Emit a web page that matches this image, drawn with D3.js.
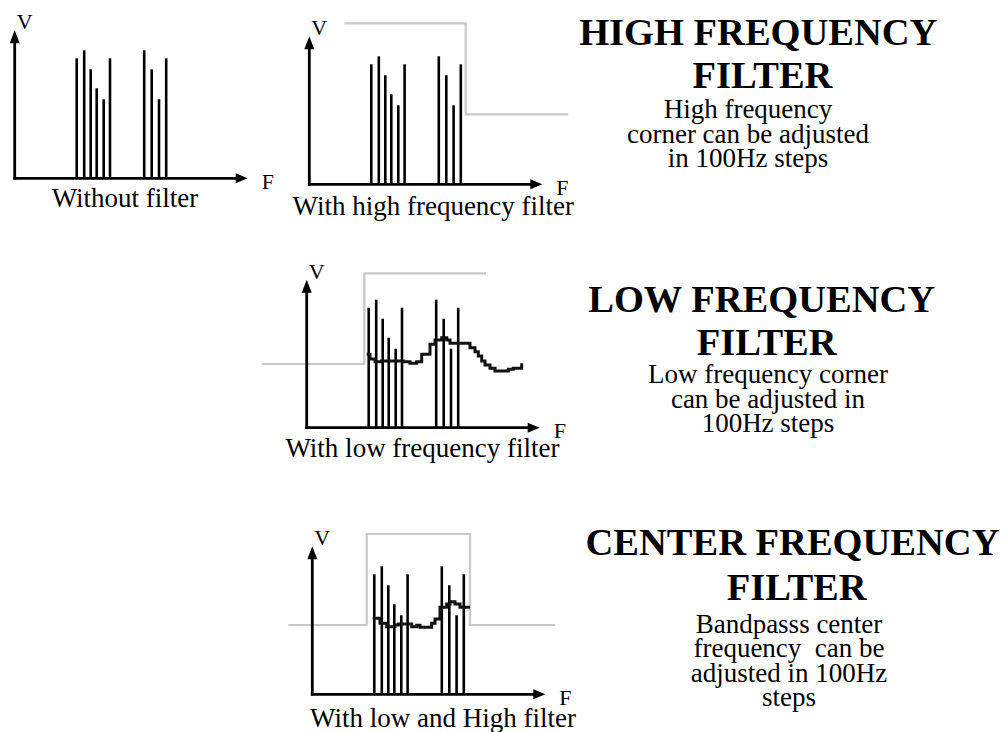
<!DOCTYPE html>
<html>
<head>
<meta charset="utf-8">
<script src="https://cdn.jsdelivr.net/npm/d3@7"></script>
<style>
  html, body { margin: 0; padding: 0; background: #fff; }
  svg { display: block; }
  text { font-family: "Liberation Serif", "Times New Roman", serif; fill: #000; white-space: pre; }
</style>
</head>
<body>
<svg id="chart" width="1003" height="732"></svg>
<script>
// ---- data (frequency / level units) ----
const barFreq  = [62, 69.5, 76, 82, 89, 95.3, 129.5, 137, 144.3, 151.5];
const barLevel = [120, 128, 109, 90, 79, 120, 128, 109, 79, 120];

const highFilterFreq  = [35, 156.4, 259];
const highFilterLevel = [161, 70, 70];

const lowFilterFreq  = [-45, 57.6, 179.3];
const lowFilterLevel = [63.7, 154.4, 154.4];

const bandFilterFreq  = [-24, 54.4, 157.7, 242.7];
const bandFilterLevel = [69.3, 160.3, 69.3, 69.3];

const lowNoiseFreq  = [60, 63.3, 68.3, 75, 96.6, 103.3, 110, 115, 123.3, 128.3, 135, 140, 143.3, 163.3, 168.3, 171.6, 175, 178.3, 183.3, 188.3, 201.6, 206.6, 215];
const lowNoiseLevel = [73.4, 68.7, 66, 66.7, 66, 64.4, 66, 73.4, 83.4, 87.7, 90, 87.7, 84.4, 80, 76, 71.7, 66.7, 62.7, 59.4, 56.7, 58.4, 59.4, 64.4];

const bandNoiseFreq  = [60.4, 67.7, 74.4, 82.7, 86, 99.4, 104.4, 107.7, 119.4, 122.7, 127.7, 134.4, 137.7, 142.7, 147.7, 157.7];
const bandNoiseLevel = [76, 71, 67.6, 69.3, 70.3, 67.6, 69, 67, 71, 75.3, 87, 90.3, 92.6, 90.3, 87, 87];

const axisLabels = ["V", "F"];
const captions = ["Without filter", "With high frequency filter", "With low frequency filter", "With low and High filter"];

const titleLines = [
  ["HIGH FREQUENCY", "FILTER"],
  ["LOW FREQUENCY", "FILTER"],
  ["CENTER FREQUENCY", "FILTER"]
];
const noteLines = [
  ["High frequency", "corner can be adjusted", "in 100Hz steps"],
  ["Low frequency corner", "can be adjusted in", "100Hz steps"],
  ["Bandpasss center", "frequency  can be", "adjusted in 100Hz", "steps"]
];

// ---- layout ----
const svg = d3.select("#chart");
const FMAX = 233, VMAX = 148;
const GRAY = "#c8c8c8";

const panels = [
  { ox: 14.7,  oy: 178.3, caption: captions[0], capX: 125,   capY: 207,   filter: null, noise: null },
  { ox: 309.3, oy: 184.3, caption: captions[1], capX: 433.3, capY: 215,   filter: [highFilterFreq, highFilterLevel], noise: null },
  { ox: 306.7, oy: 427.7, caption: captions[2], capX: 422.5, capY: 456.5, filter: [lowFilterFreq, lowFilterLevel], noise: [lowNoiseFreq, lowNoiseLevel] },
  { ox: 312.3, oy: 694.3, caption: captions[3], capX: 443,   capY: 726.5, filter: [bandFilterFreq, bandFilterLevel], noise: [bandNoiseFreq, bandNoiseLevel] }
];

panels.forEach(p => {
  const x = d3.scaleLinear().domain([0, FMAX]).range([p.ox, p.ox + FMAX]);
  const y = d3.scaleLinear().domain([0, VMAX]).range([p.oy, p.oy - VMAX]);
  const g = svg.append("g");

  const stepLine = d3.line().x(d => x(d[0])).y(d => y(d[1])).curve(d3.curveStepAfter);

  // filter response (gray)
  if (p.filter) {
    const pts = d3.zip(p.filter[0], p.filter[1]);
    g.append("path").attr("d", stepLine(pts))
      .attr("fill", "none").attr("stroke", GRAY).attr("stroke-width", 2.2);
  }

  // axes
  const ah = 12, aw = 5;
  g.append("line")
    .attr("x1", x(0)).attr("y1", y(0) + 1.4)
    .attr("x2", x(0)).attr("y2", y(VMAX) + ah - 1)
    .attr("stroke", "#000").attr("stroke-width", 2.8);
  g.append("path")
    .attr("d", `M${x(0)},${y(VMAX)} L${x(0) - aw},${y(VMAX) + ah + 1} L${x(0) + aw},${y(VMAX) + ah + 1} Z`)
    .attr("fill", "#000");
  g.append("line")
    .attr("x1", x(0) - 1.4).attr("y1", y(0))
    .attr("x2", x(FMAX) - ah + 1).attr("y2", y(0))
    .attr("stroke", "#000").attr("stroke-width", 2.8);
  g.append("path")
    .attr("d", `M${x(FMAX)},${y(0)} L${x(FMAX) - ah},${y(0) - aw} L${x(FMAX) - ah},${y(0) + aw} Z`)
    .attr("fill", "#000");

  // spectral lines
  g.selectAll("line.bar").data(d3.zip(barFreq, barLevel)).join("line")
    .attr("class", "bar")
    .attr("x1", d => x(d[0])).attr("x2", d => x(d[0]))
    .attr("y1", y(0)).attr("y2", d => y(d[1]))
    .attr("stroke", "#000").attr("stroke-width", 2.6);

  // filtered noise floor
  if (p.noise) {
    const pts = d3.zip(p.noise[0], p.noise[1]);
    g.append("path").attr("d", stepLine(pts))
      .attr("fill", "none").attr("stroke", "#111").attr("stroke-width", 3)
      .attr("stroke-linejoin", "miter");
  }

  // axis labels
  g.append("text").attr("x", x(0) + 2).attr("y", y(VMAX) - 1)
    .attr("font-size", 22).text(axisLabels[0]);
  g.append("text").attr("x", x(FMAX) + 14).attr("y", y(0) + 10.5)
    .attr("font-size", 22).text(axisLabels[1]);

  // caption
  g.append("text").attr("x", p.capX).attr("y", p.capY)
    .attr("text-anchor", "middle").attr("font-size", 27).text(p.caption);
});

// ---- descriptive text blocks ----
const blocks = [
  { tx: [758.3, 762.5], ty: [45, 88.3],  nx: 748,   ny: [118.3, 143.3, 166.7] },
  { tx: [761.7, 766.7], ty: [311.7, 355], nx: 768,  ny: [383.3, 407.7, 431.7] },
  { tx: [792.5, 796.7], ty: [555, 600],  nx: 789,   ny: [633, 657, 682, 706] }
];
blocks.forEach((b, i) => {
  titleLines[i].forEach((t, j) => {
    svg.append("text").attr("x", b.tx[j]).attr("y", b.ty[j])
      .attr("text-anchor", "middle").attr("font-size", 38.5).attr("font-weight", "bold").text(t);
  });
  noteLines[i].forEach((t, j) => {
    svg.append("text").attr("x", b.nx).attr("y", b.ny[j])
      .attr("text-anchor", "middle").attr("font-size", 27).text(t);
  });
});
</script>
</body>
</html>
